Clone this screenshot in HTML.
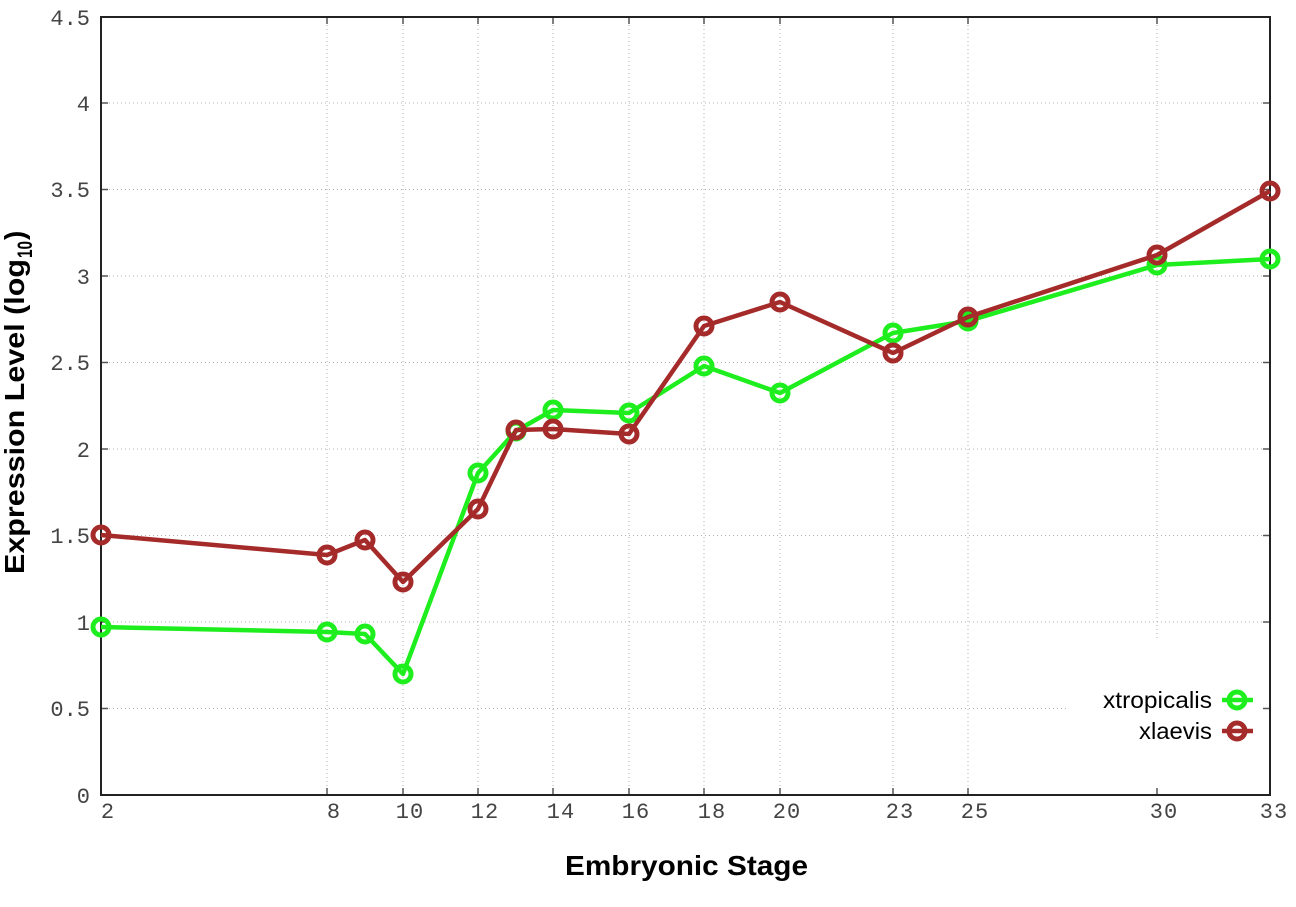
<!DOCTYPE html>
<html>
<head>
<meta charset="utf-8">
<style>
html,body{margin:0;padding:0;background:#fff;}
svg{display:block;}
</style>
</head>
<body>
<svg width="1296" height="907" viewBox="0 0 1296 907" xmlns="http://www.w3.org/2000/svg">
<rect x="0" y="0" width="1296" height="907" fill="#fff"/>

<!-- grid -->
<g stroke="#b0b0b0" stroke-width="1" stroke-dasharray="1,3" fill="none">
  <line x1="101" y1="708.5" x2="1270" y2="708.5"/>
  <line x1="101" y1="622" x2="1270" y2="622"/>
  <line x1="101" y1="535.5" x2="1270" y2="535.5"/>
  <line x1="101" y1="449" x2="1270" y2="449"/>
  <line x1="101" y1="362.5" x2="1270" y2="362.5"/>
  <line x1="101" y1="276" x2="1270" y2="276"/>
  <line x1="101" y1="189.5" x2="1270" y2="189.5"/>
  <line x1="101" y1="103" x2="1270" y2="103"/>
  <line x1="327" y1="17" x2="327" y2="795"/>
  <line x1="403" y1="17" x2="403" y2="795"/>
  <line x1="478" y1="17" x2="478" y2="795"/>
  <line x1="553" y1="17" x2="553" y2="795"/>
  <line x1="629" y1="17" x2="629" y2="795"/>
  <line x1="704" y1="17" x2="704" y2="795"/>
  <line x1="780" y1="17" x2="780" y2="795"/>
  <line x1="893" y1="17" x2="893" y2="795"/>
  <line x1="968" y1="17" x2="968" y2="795"/>
  <line x1="1157" y1="17" x2="1157" y2="795"/>
</g>
<!-- legend mask -->
<rect x="1068" y="641" width="198" height="151" fill="#fff"/>

<!-- ticks -->
<g stroke="#555" stroke-width="1.5">
  <line x1="101" y1="708.5" x2="108" y2="708.5"/><line x1="1263" y1="708.5" x2="1270" y2="708.5"/>
  <line x1="101" y1="622" x2="108" y2="622"/><line x1="1263" y1="622" x2="1270" y2="622"/>
  <line x1="101" y1="535.5" x2="108" y2="535.5"/><line x1="1263" y1="535.5" x2="1270" y2="535.5"/>
  <line x1="101" y1="449" x2="108" y2="449"/><line x1="1263" y1="449" x2="1270" y2="449"/>
  <line x1="101" y1="362.5" x2="108" y2="362.5"/><line x1="1263" y1="362.5" x2="1270" y2="362.5"/>
  <line x1="101" y1="276" x2="108" y2="276"/><line x1="1263" y1="276" x2="1270" y2="276"/>
  <line x1="101" y1="189.5" x2="108" y2="189.5"/><line x1="1263" y1="189.5" x2="1270" y2="189.5"/>
  <line x1="101" y1="103" x2="108" y2="103"/><line x1="1263" y1="103" x2="1270" y2="103"/>
  <line x1="327" y1="795" x2="327" y2="788"/><line x1="327" y1="17" x2="327" y2="24"/>
  <line x1="403" y1="795" x2="403" y2="788"/><line x1="403" y1="17" x2="403" y2="24"/>
  <line x1="478" y1="795" x2="478" y2="788"/><line x1="478" y1="17" x2="478" y2="24"/>
  <line x1="553" y1="795" x2="553" y2="788"/><line x1="553" y1="17" x2="553" y2="24"/>
  <line x1="629" y1="795" x2="629" y2="788"/><line x1="629" y1="17" x2="629" y2="24"/>
  <line x1="704" y1="795" x2="704" y2="788"/><line x1="704" y1="17" x2="704" y2="24"/>
  <line x1="780" y1="795" x2="780" y2="788"/><line x1="780" y1="17" x2="780" y2="24"/>
  <line x1="893" y1="795" x2="893" y2="788"/><line x1="893" y1="17" x2="893" y2="24"/>
  <line x1="968" y1="795" x2="968" y2="788"/><line x1="968" y1="17" x2="968" y2="24"/>
  <line x1="1157" y1="795" x2="1157" y2="788"/><line x1="1157" y1="17" x2="1157" y2="24"/>
</g>

<!-- border -->
<rect x="101" y="17" width="1169" height="778" fill="none" stroke="#222" stroke-width="2"/>

<!-- y tick labels -->
<g font-family="'Liberation Mono', monospace" font-size="22" fill="#444" text-anchor="end">
  <text x="90" y="803">0</text>
  <text x="90" y="716">0.5</text>
  <text x="90" y="630">1</text>
  <text x="90" y="543">1.5</text>
  <text x="90" y="457">2</text>
  <text x="90" y="370">2.5</text>
  <text x="90" y="284">3</text>
  <text x="90" y="197">3.5</text>
  <text x="90" y="111">4</text>
  <text x="90" y="25">4.5</text>
</g>
<!-- x tick labels -->
<g font-family="'Liberation Mono', monospace" font-size="22" fill="#444" text-anchor="middle" letter-spacing="1">
  <text x="108" y="818">2</text>
  <text x="334" y="818">8</text>
  <text x="410" y="818">10</text>
  <text x="485" y="818">12</text>
  <text x="561" y="818">14</text>
  <text x="636" y="818">16</text>
  <text x="712" y="818">18</text>
  <text x="787" y="818">20</text>
  <text x="900" y="818">23</text>
  <text x="975" y="818">25</text>
  <text x="1164" y="818">30</text>
  <text x="1274" y="818">33</text>
</g>

<!-- axis titles -->
<text x="565" y="875" font-family="'Liberation Sans', sans-serif" font-weight="bold" font-size="28" fill="#000" textLength="243" lengthAdjust="spacingAndGlyphs">Embryonic Stage</text>
<g font-family="'Liberation Sans', sans-serif" font-weight="bold" fill="#000">
  <text transform="translate(24,574) rotate(-90)" font-size="28" textLength="315" lengthAdjust="spacingAndGlyphs">Expression Level (log</text>
  <text transform="translate(32,258) rotate(-90)" font-size="21" textLength="17" lengthAdjust="spacingAndGlyphs">10</text>
  <text transform="translate(24,240) rotate(-90)" font-size="28">)</text>
</g>

<!-- xtropicalis -->
<g stroke="#1eee1e" stroke-width="4.5" fill="none" stroke-linejoin="round">
  <polyline points="101,627 327,632 365,634 403,674 478,473 516,431 553,410 629,413 704,366 780,393 893,333 968,321 1157,265 1270,259"/>
  <g stroke-width="5">
    <circle cx="101" cy="627" r="8"/><circle cx="327" cy="632" r="8"/><circle cx="365" cy="634" r="8"/>
    <circle cx="403" cy="674" r="8"/><circle cx="478" cy="473" r="8"/><circle cx="516" cy="431" r="8"/>
    <circle cx="553" cy="410" r="8"/><circle cx="629" cy="413" r="8"/><circle cx="704" cy="366" r="8"/>
    <circle cx="780" cy="393" r="8"/><circle cx="893" cy="333" r="8"/><circle cx="968" cy="321" r="8"/>
    <circle cx="1157" cy="265" r="8"/><circle cx="1270" cy="259" r="8"/>
  </g>
</g>
<!-- xlaevis -->
<g stroke="#a52a2a" stroke-width="4.5" fill="none" stroke-linejoin="round">
  <polyline points="101,535 327,555 365,540 403,582 478,509 516,430 553,429 629,434 704,326 780,302 893,353 968,317 1157,255 1270,191"/>
  <g stroke-width="5">
    <circle cx="101" cy="535" r="8"/><circle cx="327" cy="555" r="8"/><circle cx="365" cy="540" r="8"/>
    <circle cx="403" cy="582" r="8"/><circle cx="478" cy="509" r="8"/><circle cx="516" cy="430" r="8"/>
    <circle cx="553" cy="429" r="8"/><circle cx="629" cy="434" r="8"/><circle cx="704" cy="326" r="8"/>
    <circle cx="780" cy="302" r="8"/><circle cx="893" cy="353" r="8"/><circle cx="968" cy="317" r="8"/>
    <circle cx="1157" cy="255" r="8"/><circle cx="1270" cy="191" r="8"/>
  </g>
</g>

<!-- legend -->
<g font-family="'Liberation Sans', sans-serif" font-size="23" fill="#000" text-anchor="end">
  <text x="1212" y="708" textLength="109" lengthAdjust="spacingAndGlyphs">xtropicalis</text>
  <text x="1212" y="739" textLength="73" lengthAdjust="spacingAndGlyphs">xlaevis</text>
</g>
<g fill="none">
  <line x1="1222" y1="700" x2="1253" y2="700" stroke="#1eee1e" stroke-width="4.5"/>
  <circle cx="1237" cy="700" r="8" stroke="#1eee1e" stroke-width="5"/>
  <line x1="1222" y1="731" x2="1253" y2="731" stroke="#a52a2a" stroke-width="4.5"/>
  <circle cx="1237" cy="731" r="8" stroke="#a52a2a" stroke-width="5"/>
</g>
</svg>
</body>
</html>
